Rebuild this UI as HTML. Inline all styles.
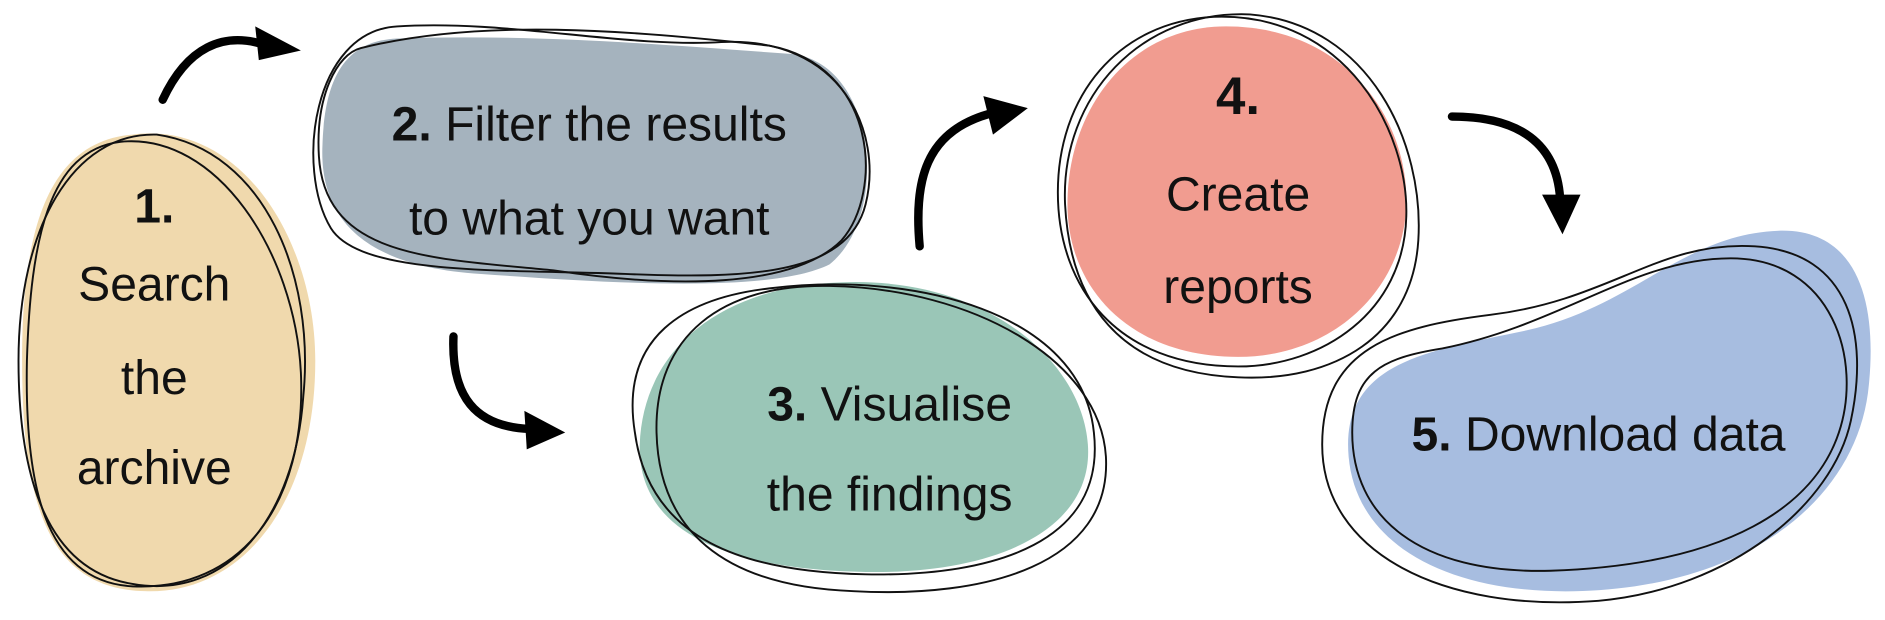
<!DOCTYPE html>
<html><head><meta charset="utf-8"><style>
html,body{margin:0;padding:0;background:#fff;}
svg{display:block;}
text{font-family:"Liberation Sans Narrow","Liberation Sans",sans-serif;font-size:40px;fill:#111;text-anchor:middle;}
.o{fill:none;stroke:#111;stroke-width:1.6;}
.b{font-weight:bold;}
</style></head><body>
<svg width="1885" height="620" viewBox="0 0 1568 516" xmlns="http://www.w3.org/2000/svg">
<!-- blob 1 -->
<path d="M110,112 C200,100 262,200 262,300 C262,420 200,495 120,492 C40,490 18,420 18,300 C18,190 40,118 110,112Z" fill="#f0d9ad"/>
<path class="o" d="M100,118 C180,110 245,210 250,310 C255,420 200,492 110,488 C35,484 20,400 22,300 C25,200 40,125 100,118Z"/>
<path class="o" d="M130,112 C220,125 262,230 252,330 C245,430 190,500 110,486 C40,475 15,400 15,300 C15,190 60,110 130,112Z"/>
<text x="128" y="185" class="b">1.</text>
<text x="128" y="250">Search</text>
<text x="128" y="328">the</text>
<text x="128" y="403">archive</text>
<!-- blob 2 -->
<path d="M330,32 C450,28 560,38 660,45 C730,55 740,180 690,220 C640,245 500,235 400,228 C300,222 265,180 268,120 C270,60 290,34 330,32Z" fill="#a5b3be"/>
<path class="o" d="M330,22 C420,16 520,40 600,35 C700,30 735,110 720,170 C705,230 620,232 520,228 C420,224 300,230 275,190 C245,140 260,26 330,22Z"/>
<path class="o" d="M300,40 C400,15 520,25 640,38 C730,55 735,160 700,200 C660,240 560,240 460,225 C360,215 270,215 265,130 C262,80 280,45 300,40Z"/>
<text x="490" y="117"><tspan class="b">2.</tspan> Filter the results</text>
<text x="490" y="195">to what you want</text>
<!-- blob 3 -->
<path d="M700,235 C820,230 900,300 905,370 C910,440 830,478 720,476 C600,474 530,440 532,370 C535,290 600,238 700,235Z" fill="#9ac6b7"/>
<path class="o" d="M640,240 C760,225 900,260 910,360 C920,450 830,480 720,478 C620,476 540,450 528,360 C515,280 570,248 640,240Z"/>
<path class="o" d="M690,238 C810,240 915,300 920,380 C925,470 820,498 710,492 C600,488 548,440 546,360 C544,280 600,236 690,238Z"/>
<text x="740" y="350"><tspan class="b">3.</tspan> Visualise</text>
<text x="740" y="425">the findings</text>
<!-- blob 4 -->
<path d="M1020,22 C1120,22 1172,100 1170,170 C1168,240 1110,297 1030,297 C940,297 888,240 888,170 C888,90 940,22 1020,22Z" fill="#f19c90"/>
<path class="o" d="M1010,14 C1120,10 1172,110 1170,180 C1168,260 1100,305 1030,305 C930,305 880,240 880,160 C880,80 930,18 1010,14Z"/>
<path class="o" d="M1040,12 C1140,20 1185,120 1180,200 C1175,280 1110,318 1030,314 C930,310 890,250 886,170 C882,80 950,8 1040,12Z"/>
<text x="1030" y="95" class="b" style="font-size:44px">4.</text>
<text x="1030" y="175">Create</text>
<text x="1030" y="252">reports</text>
<!-- blob 5 -->
<path d="M1270,275 C1360,255 1400,195 1480,192 C1545,190 1562,250 1555,320 C1548,400 1480,470 1360,488 C1240,505 1130,470 1122,380 C1115,300 1190,292 1270,275Z" fill="#a7bde0"/>
<path class="o" d="M1240,262 C1340,250 1380,200 1460,205 C1540,210 1555,280 1540,350 C1525,420 1440,490 1330,500 C1200,510 1100,460 1100,370 C1100,290 1160,272 1240,262Z"/>
<path class="o" d="M1200,290 C1300,270 1360,215 1440,215 C1525,215 1550,300 1530,360 C1510,420 1440,470 1290,475 C1180,478 1125,430 1125,360 C1125,310 1150,298 1200,290Z"/>
<text x="1330" y="375"><tspan class="b">5.</tspan> Download data</text>
<!-- arrows -->
<g fill="none" stroke="#000" stroke-width="7" stroke-linecap="round">
<path d="M135,83 C155,40 185,25 222,38"/>
<path d="M377,280 C375,330 395,355 440,357"/>
<path d="M765,205 C760,150 770,110 822,95"/>
<path d="M1208,97 C1265,97 1295,120 1298,165"/>
</g>
<g fill="#000">
<path d="M212,22 L250,42 L215,50Z"/>
<path d="M436,342 L470,360 L438,374Z"/>
<path d="M818,80 L855,90 L826,112Z"/>
<path d="M1283,162 L1315,162 L1300,195Z"/>
</g>
</svg>
</body></html>
